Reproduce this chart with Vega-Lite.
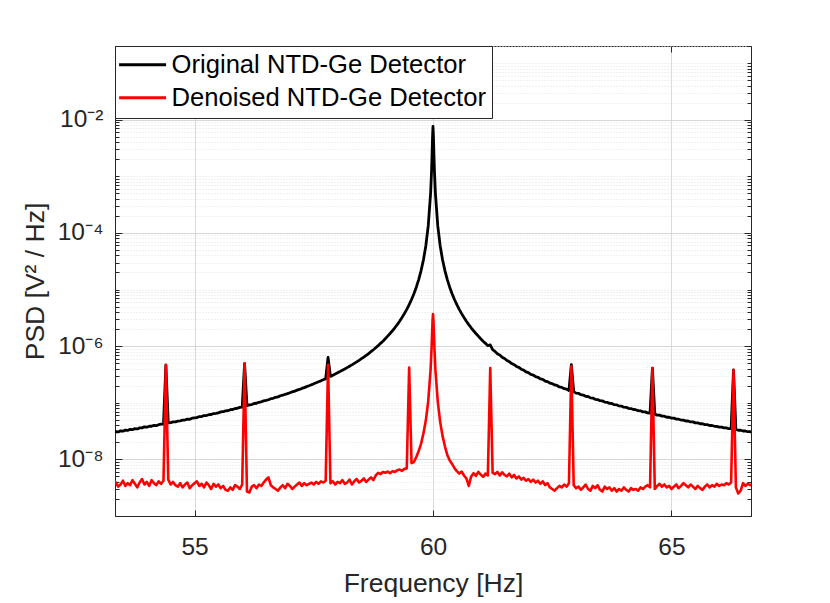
{
  "$schema": "https://vega.github.io/schema/vega-lite/v6.json",
  "width": 636,
  "height": 470,
  "autosize": {"type": "none"},
  "padding": {"left": 115, "top": 46, "right": 79, "bottom": 87},
  "background": "white",
  "data": {
    "values": [
      {"f":53.30,"o":3.0e-8,"d":4.4e-9},{"f":53.35,"o":3.1e-8,"d":3.9e-9},{"f":53.40,"o":3.05e-8,"d":3.3e-9},{"f":53.45,"o":3.2e-8,"d":3.6e-9},
      {"f":53.50,"o":3.15e-8,"d":4.2e-9},{"f":53.55,"o":3.3e-8,"d":3.4e-9},{"f":53.60,"o":3.25e-8,"d":3.8e-9},{"f":53.65,"o":3.4e-8,"d":3.5e-9},
      {"f":53.70,"o":3.35e-8,"d":4.3e-9},{"f":53.75,"o":3.5e-8,"d":3.7e-9},{"f":53.80,"o":3.45e-8,"d":3.2e-9},{"f":53.85,"o":3.6e-8,"d":3.9e-9},
      {"f":53.90,"o":3.6e-8,"d":4.5e-9},{"f":53.95,"o":3.75e-8,"d":3.6e-9},{"f":54.00,"o":3.7e-8,"d":4.0e-9},{"f":54.05,"o":3.85e-8,"d":3.4e-9},
      {"f":54.10,"o":3.85e-8,"d":4.3e-9},{"f":54.15,"o":4.0e-8,"d":3.8e-9},{"f":54.20,"o":3.95e-8,"d":3.5e-9},{"f":54.25,"o":4.1e-8,"d":4.1e-9},
      {"f":54.30,"o":4.2e-8,"d":3.7e-9},{"f":54.35,"o":4.2e-8,"d":4.2e-9},{"f":54.40,"o":4.6e-7,"d":4.7e-7},{"f":54.45,"o":4.4e-8,"d":4.4e-9},
      {"f":54.50,"o":4.45e-8,"d":3.6e-9},{"f":54.55,"o":4.6e-8,"d":4.0e-9},{"f":54.60,"o":4.6e-8,"d":3.5e-9},{"f":54.65,"o":4.75e-8,"d":3.3e-9},
      {"f":54.70,"o":4.8e-8,"d":3.8e-9},{"f":54.75,"o":4.95e-8,"d":3.2e-9},{"f":54.80,"o":4.95e-8,"d":3.6e-9},{"f":54.85,"o":5.15e-8,"d":3.9e-9},
      {"f":54.90,"o":5.1e-8,"d":3.1e-9},{"f":54.95,"o":5.35e-8,"d":3.5e-9},{"f":55.00,"o":5.4e-8,"d":3.8e-9},{"f":55.05,"o":5.45e-8,"d":4.1e-9},
      {"f":55.10,"o":5.7e-8,"d":3.4e-9},{"f":55.15,"o":5.7e-8,"d":3.7e-9},{"f":55.20,"o":5.95e-8,"d":3.2e-9},{"f":55.25,"o":5.95e-8,"d":3.9e-9},
      {"f":55.30,"o":6.15e-8,"d":3.5e-9},{"f":55.35,"o":6.2e-8,"d":3.0e-9},{"f":55.40,"o":6.45e-8,"d":3.7e-9},{"f":55.45,"o":6.5e-8,"d":3.3e-9},
      {"f":55.50,"o":6.6e-8,"d":3.6e-9},{"f":55.55,"o":6.9e-8,"d":3.1e-9},{"f":55.60,"o":6.95e-8,"d":3.4e-9},{"f":55.65,"o":7.2e-8,"d":2.9e-9},
      {"f":55.70,"o":7.25e-8,"d":2.8e-9},{"f":55.75,"o":7.55e-8,"d":3.2e-9},{"f":55.80,"o":7.6e-8,"d":2.9e-9},{"f":55.85,"o":7.9e-8,"d":3.5e-9},
      {"f":55.90,"o":8.0e-8,"d":3.3e-9},{"f":55.95,"o":8.3e-8,"d":3.0e-9},{"f":56.00,"o":8.4e-8,"d":3.6e-9},{"f":56.05,"o":4.9e-7,"d":5.0e-7},
      {"f":56.10,"o":8.9e-8,"d":2.7e-9},{"f":56.15,"o":9.2e-8,"d":2.6e-9},{"f":56.20,"o":9.3e-8,"d":3.3e-9},{"f":56.25,"o":9.7e-8,"d":3.5e-9},
      {"f":56.30,"o":9.8e-8,"d":3.1e-9},{"f":56.35,"o":1.02e-7,"d":3.6e-9},{"f":56.40,"o":1.04e-7,"d":3.4e-9},{"f":56.45,"o":1.08e-7,"d":3.9e-9},
      {"f":56.50,"o":1.10e-7,"d":4.4e-9},{"f":56.55,"o":1.13e-7,"d":4.8e-9},{"f":56.60,"o":1.18e-7,"d":3.5e-9},{"f":56.65,"o":1.20e-7,"d":3.2e-9},
      {"f":56.70,"o":1.25e-7,"d":3.0e-9},{"f":56.75,"o":1.27e-7,"d":2.8e-9},{"f":56.80,"o":1.33e-7,"d":3.2e-9},{"f":56.85,"o":1.36e-7,"d":3.5e-9},
      {"f":56.90,"o":1.41e-7,"d":3.1e-9},{"f":56.95,"o":1.45e-7,"d":3.7e-9},{"f":57.00,"o":1.50e-7,"d":3.4e-9},{"f":57.05,"o":1.56e-7,"d":3.0e-9},
      {"f":57.10,"o":1.60e-7,"d":3.3e-9},{"f":57.15,"o":1.67e-7,"d":3.6e-9},{"f":57.20,"o":1.72e-7,"d":3.9e-9},{"f":57.25,"o":1.79e-7,"d":3.4e-9},
      {"f":57.30,"o":1.85e-7,"d":3.8e-9},{"f":57.35,"o":1.93e-7,"d":3.5e-9},{"f":57.40,"o":2.0e-7,"d":3.7e-9},{"f":57.45,"o":2.08e-7,"d":3.9e-9},
      {"f":57.50,"o":2.16e-7,"d":3.6e-9},{"f":57.55,"o":2.25e-7,"d":4.0e-9},{"f":57.60,"o":2.35e-7,"d":3.7e-9},{"f":57.65,"o":2.44e-7,"d":4.1e-9},
      {"f":57.70,"o":2.55e-7,"d":3.9e-9},{"f":57.75,"o":2.67e-7,"d":4.2e-9},{"f":57.80,"o":6.3e-7,"d":4.7e-7},{"f":57.85,"o":2.92e-7,"d":3.8e-9},
      {"f":57.90,"o":3.06e-7,"d":4.1e-9},{"f":57.95,"o":3.21e-7,"d":3.6e-9},{"f":58.00,"o":3.38e-7,"d":4.0e-9},{"f":58.05,"o":3.55e-7,"d":3.8e-9},
      {"f":58.10,"o":3.74e-7,"d":4.3e-9},{"f":58.15,"o":3.94e-7,"d":3.7e-9},{"f":58.20,"o":4.17e-7,"d":3.9e-9},{"f":58.25,"o":4.41e-7,"d":4.4e-9},
      {"f":58.30,"o":4.67e-7,"d":3.6e-9},{"f":58.35,"o":4.96e-7,"d":4.1e-9},{"f":58.40,"o":5.27e-7,"d":4.5e-9},{"f":58.45,"o":5.62e-7,"d":3.9e-9},
      {"f":58.50,"o":6.0e-7,"d":4.2e-9},{"f":58.55,"o":6.42e-7,"d":4.6e-9},{"f":58.60,"o":6.89e-7,"d":4.0e-9},{"f":58.65,"o":7.41e-7,"d":4.4e-9},
      {"f":58.70,"o":7.99e-7,"d":4.8e-9},{"f":58.75,"o":8.64e-7,"d":4.3e-9},{"f":58.80,"o":9.38e-7,"d":5.2e-9},{"f":58.85,"o":1.02e-6,"d":5.8e-9},
      {"f":58.90,"o":1.12e-6,"d":5.5e-9},{"f":58.95,"o":1.22e-6,"d":6.0e-9},{"f":59.00,"o":1.35e-6,"d":5.8e-9},{"f":59.05,"o":1.50e-6,"d":6.1e-9},
      {"f":59.10,"o":1.67e-6,"d":5.7e-9},{"f":59.15,"o":1.87e-6,"d":6.2e-9},{"f":59.20,"o":2.11e-6,"d":6.0e-9},{"f":59.25,"o":2.40e-6,"d":6.4e-9},
      {"f":59.30,"o":2.76e-6,"d":6.6e-9},{"f":59.35,"o":3.20e-6,"d":6.3e-9},{"f":59.40,"o":3.75e-6,"d":6.8e-9},{"f":59.45,"o":4.46e-6,"d":6.9e-9},
      {"f":59.50,"o":5.40e-6,"d":4.2e-7},{"f":59.55,"o":6.67e-6,"d":8.6e-9},{"f":59.60,"o":8.44e-6,"d":9.0e-9},{"f":59.65,"o":1.10e-5,"d":1.1e-8},
      {"f":59.70,"o":1.50e-5,"d":1.4e-8},{"f":59.75,"o":2.16e-5,"d":1.9e-8},{"f":59.80,"o":3.36e-5,"d":2.9e-8},{"f":59.85,"o":5.95e-5,"d":4.9e-8},
      {"f":59.90,"o":1.33e-4,"d":1.07e-7},{"f":59.95,"o":5.04e-4,"d":3.9e-7},{"f":59.97,"o":1.25e-3,"d":9.2e-7},{"f":59.98,"o":2.34e-3,"d":1.57e-6},
      {"f":59.99,"o":4.86e-3,"d":2.75e-6},{"f":60.00,"o":7.6e-3,"d":3.7e-6},{"f":60.01,"o":4.86e-3,"d":2.75e-6},{"f":60.02,"o":2.34e-3,"d":1.57e-6},
      {"f":60.03,"o":1.25e-3,"d":9.2e-7},{"f":60.05,"o":5.04e-4,"d":3.9e-7},{"f":60.10,"o":1.33e-4,"d":1.05e-7},{"f":60.15,"o":5.95e-5,"d":4.6e-8},
      {"f":60.20,"o":3.36e-5,"d":2.6e-8},{"f":60.25,"o":2.16e-5,"d":1.7e-8},{"f":60.30,"o":1.50e-5,"d":1.2e-8},{"f":60.35,"o":1.10e-5,"d":9.6e-9},
      {"f":60.40,"o":8.44e-6,"d":8.3e-9},{"f":60.45,"o":6.67e-6,"d":7.0e-9},{"f":60.50,"o":5.40e-6,"d":6.2e-9},{"f":60.55,"o":4.46e-6,"d":5.6e-9},
      {"f":60.60,"o":3.75e-6,"d":6.1e-9},{"f":60.65,"o":3.20e-6,"d":5.2e-9},{"f":60.70,"o":2.76e-6,"d":4.6e-9},{"f":60.75,"o":2.40e-6,"d":3.4e-9},
      {"f":60.80,"o":2.11e-6,"d":5.0e-9},{"f":60.85,"o":1.87e-6,"d":5.7e-9},{"f":60.90,"o":1.67e-6,"d":5.1e-9},{"f":60.95,"o":1.50e-6,"d":6.0e-9},
      {"f":61.00,"o":1.35e-6,"d":5.4e-9},{"f":61.05,"o":1.22e-6,"d":4.9e-9},{"f":61.10,"o":1.12e-6,"d":5.6e-9},{"f":61.15,"o":1.02e-6,"d":5.2e-9},
      {"f":61.20,"o":1.05e-6,"d":4.1e-7},{"f":61.25,"o":8.64e-7,"d":5.8e-9},{"f":61.30,"o":8.05e-7,"d":5.5e-9},{"f":61.35,"o":7.35e-7,"d":6.0e-9},
      {"f":61.40,"o":6.95e-7,"d":5.2e-9},{"f":61.45,"o":6.35e-7,"d":5.9e-9},{"f":61.50,"o":6.05e-7,"d":5.3e-9},{"f":61.55,"o":5.58e-7,"d":5.0e-9},
      {"f":61.60,"o":5.32e-7,"d":5.6e-9},{"f":61.65,"o":4.92e-7,"d":4.8e-9},{"f":61.70,"o":4.71e-7,"d":5.3e-9},{"f":61.75,"o":4.38e-7,"d":4.6e-9},
      {"f":61.80,"o":4.21e-7,"d":5.0e-9},{"f":61.85,"o":3.91e-7,"d":4.4e-9},{"f":61.90,"o":3.78e-7,"d":4.7e-9},{"f":61.95,"o":3.52e-7,"d":4.2e-9},
      {"f":62.00,"o":3.41e-7,"d":4.5e-9},{"f":62.05,"o":3.18e-7,"d":4.0e-9},{"f":62.10,"o":3.09e-7,"d":4.4e-9},{"f":62.15,"o":2.89e-7,"d":3.9e-9},
      {"f":62.20,"o":2.82e-7,"d":4.2e-9},{"f":62.25,"o":2.64e-7,"d":3.7e-9},{"f":62.30,"o":2.58e-7,"d":4.1e-9},{"f":62.35,"o":2.42e-7,"d":3.5e-9},
      {"f":62.40,"o":2.36e-7,"d":3.8e-9},{"f":62.45,"o":2.23e-7,"d":3.2e-9},{"f":62.50,"o":2.18e-7,"d":3.0e-9},{"f":62.55,"o":2.06e-7,"d":2.8e-9},
      {"f":62.60,"o":2.02e-7,"d":3.1e-9},{"f":62.65,"o":1.90e-7,"d":3.4e-9},{"f":62.70,"o":1.87e-7,"d":3.2e-9},{"f":62.75,"o":1.77e-7,"d":3.6e-9},
      {"f":62.80,"o":1.74e-7,"d":3.3e-9},{"f":62.85,"o":1.64e-7,"d":3.8e-9},{"f":62.90,"o":4.7e-7,"d":4.4e-7},{"f":62.95,"o":1.57e-7,"d":3.5e-9},
      {"f":63.00,"o":1.48e-7,"d":3.1e-9},{"f":63.05,"o":1.47e-7,"d":3.3e-9},{"f":63.10,"o":1.39e-7,"d":2.9e-9},{"f":63.15,"o":1.37e-7,"d":3.2e-9},
      {"f":63.20,"o":1.30e-7,"d":3.6e-9},{"f":63.25,"o":1.29e-7,"d":3.0e-9},{"f":63.30,"o":1.22e-7,"d":2.8e-9},{"f":63.35,"o":1.21e-7,"d":3.4e-9},
      {"f":63.40,"o":1.15e-7,"d":3.1e-9},{"f":63.45,"o":1.14e-7,"d":3.5e-9},{"f":63.50,"o":1.09e-7,"d":2.9e-9},{"f":63.55,"o":1.08e-7,"d":2.7e-9},
      {"f":63.60,"o":1.03e-7,"d":3.3e-9},{"f":63.65,"o":1.02e-7,"d":3.0e-9},{"f":63.70,"o":9.75e-8,"d":3.2e-9},{"f":63.75,"o":9.7e-8,"d":2.8e-9},
      {"f":63.80,"o":9.25e-8,"d":3.1e-9},{"f":63.85,"o":9.2e-8,"d":2.7e-9},{"f":63.90,"o":8.8e-8,"d":3.0e-9},{"f":63.95,"o":8.75e-8,"d":2.8e-9},
      {"f":64.00,"o":8.35e-8,"d":3.2e-9},{"f":64.05,"o":8.3e-8,"d":2.9e-9},{"f":64.10,"o":7.95e-8,"d":2.7e-9},{"f":64.15,"o":7.9e-8,"d":3.1e-9},
      {"f":64.20,"o":7.6e-8,"d":2.9e-9},{"f":64.25,"o":7.55e-8,"d":3.0e-9},{"f":64.30,"o":7.25e-8,"d":2.8e-9},{"f":64.35,"o":7.2e-8,"d":3.2e-9},
      {"f":64.40,"o":6.9e-8,"d":3.0e-9},{"f":64.45,"o":6.9e-8,"d":3.3e-9},{"f":64.50,"o":6.6e-8,"d":3.5e-9},{"f":64.55,"o":6.55e-8,"d":3.2e-9},
      {"f":64.60,"o":4.1e-7,"d":4.1e-7},{"f":64.65,"o":6.3e-8,"d":3.0e-9},{"f":64.70,"o":6.05e-8,"d":3.4e-9},{"f":64.75,"o":6.05e-8,"d":3.7e-9},
      {"f":64.80,"o":5.8e-8,"d":3.3e-9},{"f":64.85,"o":5.8e-8,"d":3.6e-9},{"f":64.90,"o":5.55e-8,"d":3.2e-9},{"f":64.95,"o":5.55e-8,"d":3.4e-9},
      {"f":65.00,"o":5.35e-8,"d":3.0e-9},{"f":65.05,"o":5.35e-8,"d":3.3e-9},{"f":65.10,"o":5.15e-8,"d":3.6e-9},{"f":65.15,"o":5.12e-8,"d":3.1e-9},
      {"f":65.20,"o":4.95e-8,"d":3.4e-9},{"f":65.25,"o":4.93e-8,"d":3.8e-9},{"f":65.30,"o":4.76e-8,"d":3.5e-9},{"f":65.35,"o":4.76e-8,"d":3.2e-9},
      {"f":65.40,"o":4.58e-8,"d":3.6e-9},{"f":65.45,"o":4.59e-8,"d":3.3e-9},{"f":65.50,"o":4.42e-8,"d":3.0e-9},{"f":65.55,"o":4.42e-8,"d":3.4e-9},
      {"f":65.60,"o":4.26e-8,"d":3.1e-9},{"f":65.65,"o":4.26e-8,"d":2.9e-9},{"f":65.70,"o":4.12e-8,"d":3.3e-9},{"f":65.75,"o":4.11e-8,"d":3.6e-9},
      {"f":65.80,"o":3.97e-8,"d":3.2e-9},{"f":65.85,"o":3.97e-8,"d":3.5e-9},{"f":65.90,"o":3.84e-8,"d":3.3e-9},{"f":65.95,"o":3.84e-8,"d":3.7e-9},
      {"f":66.00,"o":3.72e-8,"d":3.4e-9},{"f":66.05,"o":3.72e-8,"d":3.6e-9},{"f":66.10,"o":3.6e-8,"d":3.5e-9},{"f":66.15,"o":3.6e-8,"d":3.8e-9},
      {"f":66.20,"o":3.48e-8,"d":3.6e-9},{"f":66.25,"o":3.48e-8,"d":3.9e-9},{"f":66.30,"o":3.8e-7,"d":3.8e-7},{"f":66.35,"o":3.37e-8,"d":3.2e-9},
      {"f":66.40,"o":3.27e-8,"d":2.5e-9},{"f":66.45,"o":3.27e-8,"d":2.8e-9},{"f":66.50,"o":3.17e-8,"d":3.8e-9},{"f":66.55,"o":3.17e-8,"d":3.4e-9},
      {"f":66.60,"o":3.08e-8,"d":3.7e-9},{"f":66.65,"o":3.08e-8,"d":3.5e-9},{"f":66.70,"o":3.0e-8,"d":3.6e-9}
    ]
  },
  "transform": [{"fold": ["o", "d"], "as": ["series", "psd"]}],
  "encoding": {
    "color": {
      "field": "series",
      "type": "nominal",
      "scale": {"domain": ["o", "d"], "range": ["#000000", "#ff0000"]},
      "legend": {
        "title": null,
        "orient": "top-left",
        "offset": 0,
        "padding": 6,
        "rowPadding": 6,
        "fillColor": "white",
        "strokeColor": "#262626",
        "symbolType": "M-1.4,0H3.076",
        "symbolSize": 441,
        "symbolStrokeWidth": 3,
        "labelOffset": 25,
        "labelFontSize": 25.6,
        "labelColor": "#000000",
        "labelLimit": 400,
        "labelExpr": "datum.label == 'o' ? 'Original NTD-Ge Detector' : 'Denoised NTD-Ge Detector'"
      }
    }
  },
  "layer": [
    {
      "transform": [{"filter": "datum.series == 'o'"}],
      "mark": {"type": "line", "strokeWidth": 2.8, "clip": true, "strokeJoin": "round"},
      "encoding": {
        "x": {
          "field": "f",
          "type": "quantitative",
          "scale": {"domain": [53.3333, 66.6667], "nice": false, "zero": false},
          "axis": {
            "values": [55, 60, 65],
            "title": "Frequency [Hz]",
            "tickSize": -6,
            "labelPadding": 25,
            "titlePadding": 12,
            "gridColor": "#dadada"
          }
        },
        "y": {
          "field": "psd",
          "type": "quantitative",
          "scale": {"type": "log", "domain": [1e-9, 0.2], "nice": false},
          "axis": {
            "title": "PSD [V² / Hz]",
            "titlePadding": 8,
            "labelPadding": 19,
            "labelOverlap": false,
            "labelBound": false,
            "values": [
              1e-9,2e-9,3e-9,4e-9,5e-9,6e-9,7e-9,8e-9,9e-9,
              1e-8,2e-8,3e-8,4e-8,5e-8,6e-8,7e-8,8e-8,9e-8,
              1e-7,2e-7,3e-7,4e-7,5e-7,6e-7,7e-7,8e-7,9e-7,
              1e-6,2e-6,3e-6,4e-6,5e-6,6e-6,7e-6,8e-6,9e-6,
              1e-5,2e-5,3e-5,4e-5,5e-5,6e-5,7e-5,8e-5,9e-5,
              1e-4,2e-4,3e-4,4e-4,5e-4,6e-4,7e-4,8e-4,9e-4,
              1e-3,2e-3,3e-3,4e-3,5e-3,6e-3,7e-3,8e-3,9e-3,
              1e-2,2e-2,3e-2,4e-2,5e-2,6e-2,7e-2,8e-2,9e-2,
              1e-1,2e-1
            ],
            "labelExpr": "abs(log(datum.value)/LN10 - round(log(datum.value)/LN10)) < 0.01 && round(log(datum.value)/LN10) % 2 == 0 ? '10' + (round(log(datum.value)/LN10) == -2 ? '⁻²' : round(log(datum.value)/LN10) == -4 ? '⁻⁴' : round(log(datum.value)/LN10) == -6 ? '⁻⁶' : '⁻⁸') : ''",
            "gridDash": {"condition": {"test": "abs(log(datum.value)/LN10 - round(log(datum.value)/LN10)) < 0.01 && round(log(datum.value)/LN10) % 2 == 0", "value": []}, "value": [1, 2]},
            "gridColor": {"condition": {"test": "abs(log(datum.value)/LN10 - round(log(datum.value)/LN10)) < 0.01 && round(log(datum.value)/LN10) % 2 == 0", "value": "#d6d6d6"}, "value": "#e2e2e2"},
            "tickSize": {"condition": {"test": "abs(log(datum.value)/LN10 - round(log(datum.value)/LN10)) < 0.01 && round(log(datum.value)/LN10) % 2 == 0", "value": -7}, "value": -4}
          }
        }
      }
    },
    {
      "transform": [{"filter": "datum.series == 'd'"}],
      "mark": {"type": "line", "strokeWidth": 2.6, "clip": true, "strokeJoin": "round"},
      "encoding": {
        "x": {
          "field": "f",
          "type": "quantitative",
          "scale": {"domain": [53.3333, 66.6667], "nice": false, "zero": false},
          "axis": {
            "orient": "top",
            "values": [55, 60, 65],
            "title": null,
            "labels": false,
            "grid": false,
            "domain": false,
            "tickSize": -6
          }
        },
        "y": {
          "field": "psd",
          "type": "quantitative",
          "scale": {"type": "log", "domain": [1e-9, 0.2], "nice": false},
          "axis": {
            "orient": "right",
            "title": null,
            "labels": false,
            "grid": false,
            "domain": false,
            "values": [
              1e-9,2e-9,3e-9,4e-9,5e-9,6e-9,7e-9,8e-9,9e-9,
              1e-8,2e-8,3e-8,4e-8,5e-8,6e-8,7e-8,8e-8,9e-8,
              1e-7,2e-7,3e-7,4e-7,5e-7,6e-7,7e-7,8e-7,9e-7,
              1e-6,2e-6,3e-6,4e-6,5e-6,6e-6,7e-6,8e-6,9e-6,
              1e-5,2e-5,3e-5,4e-5,5e-5,6e-5,7e-5,8e-5,9e-5,
              1e-4,2e-4,3e-4,4e-4,5e-4,6e-4,7e-4,8e-4,9e-4,
              1e-3,2e-3,3e-3,4e-3,5e-3,6e-3,7e-3,8e-3,9e-3,
              1e-2,2e-2,3e-2,4e-2,5e-2,6e-2,7e-2,8e-2,9e-2,
              1e-1,2e-1
            ],
            "tickSize": {"condition": {"test": "abs(log(datum.value)/LN10 - round(log(datum.value)/LN10)) < 0.01 && round(log(datum.value)/LN10) % 2 == 0", "value": -7}, "value": -4}
          }
        }
      }
    }
  ],
  "resolve": {"axis": {"x": "independent", "y": "independent"}},
  "config": {
    "font": "Liberation Sans",
    "view": {"stroke": "#262626", "strokeWidth": 1},
    "axis": {
      "labelFont": "Liberation Sans",
      "titleFont": "Liberation Sans",
      "labelFontSize": 24.5,
      "titleFontSize": 26.5,
      "titleFontWeight": "normal",
      "labelColor": "#262626",
      "titleColor": "#262626",
      "domainColor": "#262626",
      "tickColor": "#262626"
    },
    "legend": {"labelFont": "Liberation Sans"}
  }
}
